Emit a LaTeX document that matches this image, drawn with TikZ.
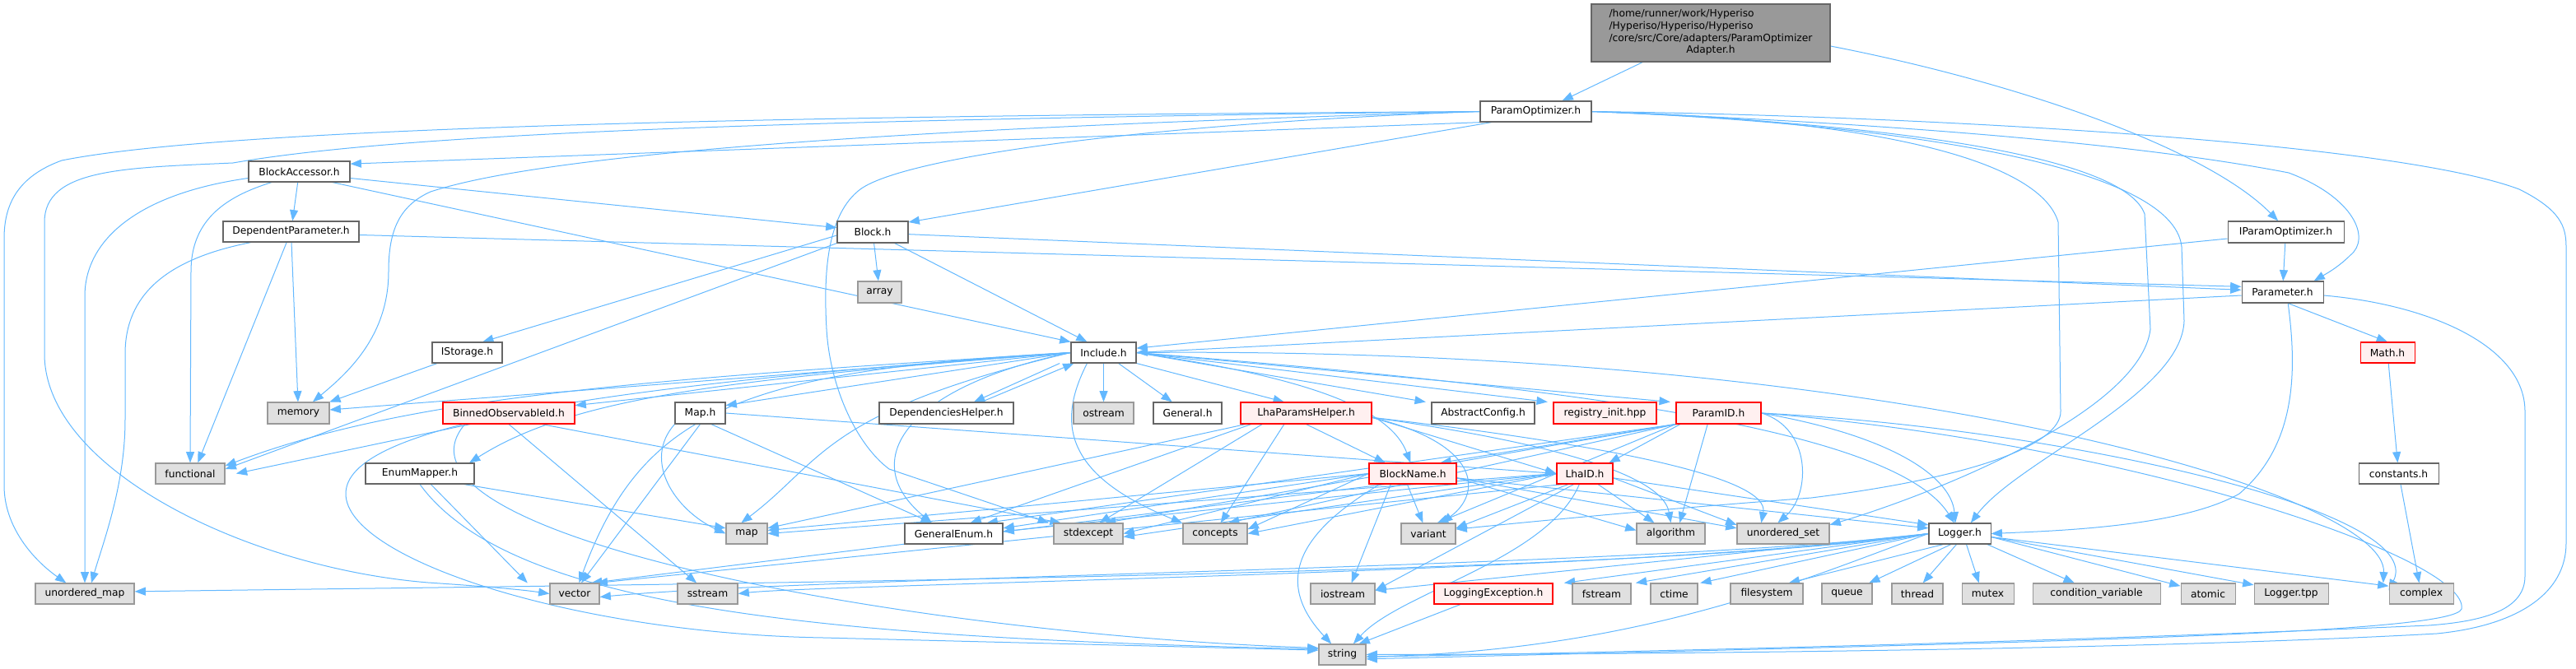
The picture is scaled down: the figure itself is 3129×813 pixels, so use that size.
\documentclass[tikz,border=0pt]{standalone}
\usepackage{fontspec}
\setmainfont{DejaVu Sans}
\usetikzlibrary{arrows.meta}
\pgfdeclarelayer{bg}
\pgfsetlayers{bg,main}
\definecolor{edgec}{HTML}{63B8FF}
\definecolor{nbord}{HTML}{666666}
\definecolor{sbord}{HTML}{999999}
\definecolor{sfill}{HTML}{E0E0E0}
\definecolor{rfill}{HTML}{FFF0F0}
\definecolor{tfill}{HTML}{999999}
\newcommand\nd[7]{\node[#2,minimum width={(#5-#3)*0.75pt},minimum height={(#6-#4)*0.75pt}] (#1) at ({(#3+#5)/2},{(#4+#6)/2}) {#7};}
\newcommand\E[2]{\draw[ed] (#1) -- (#2);}
\begin{document}
\begin{tikzpicture}[x=0.75pt,y=-0.75pt,
  base/.style={draw, inner sep=0pt, line width=0.8pt, font=\fontsize{9.2}{11}\selectfont},
  nrm/.style={base, draw=nbord, fill=white},
  sys/.style={base, draw=sbord, fill=sfill},
  rnode/.style={base, draw=red, fill=rfill},
  topn/.style={base, draw=nbord, fill=tfill},
  ed/.style={draw=edgec, line width=0.75pt, -{Triangle[length=10pt,width=7.5pt]}, fill=none}]
\useasboundingbox (0,0) rectangle (3129,813);
% ---- nodes ----
\nd{top}{topn}{1933}{5}{2223}{75}{\begin{tabular}{@{}l@{}}/home/runner/work/Hyperiso\\/Hyperiso/Hyperiso/Hyperiso\\/core/src/Core/adapters/ParamOptimizer\\\multicolumn{1}{@{}c@{}}{Adapter.h}\end{tabular}}
\nd{po}{nrm}{1798}{123}{1933}{148}{ParamOptimizer.h}
\nd{ba}{nrm}{302}{196}{425}{221}{BlockAccessor.h}
\nd{dp}{nrm}{271}{269}{436}{294}{DependentParameter.h}
\nd{blk}{nrm}{1017}{269}{1103}{295}{Block.h}
\nd{arr}{sys}{1042}{342}{1095}{368}{array}
\nd{ipo}{nrm}{2706}{269}{2847}{295}{IParamOptimizer.h}
\nd{par}{nrm}{2723}{342}{2822}{368}{Parameter.h}
\nd{math}{rnode}{2867}{416}{2933}{441}{Math.h}
\nd{const}{nrm}{2865}{563}{2962}{588}{constants.h}
\nd{cplx}{sys}{2902}{709}{2980}{734}{complex}
\nd{ltpp}{sys}{2738}{709}{2828}{734}{Logger.tpp}
\nd{atom}{sys}{2649}{709}{2715}{734}{atomic}
\nd{cv}{sys}{2469}{709}{2624}{734}{condition\_variable}
\nd{mtx}{sys}{2383}{709}{2446}{734}{mutex}
\nd{thr}{sys}{2298}{709}{2360}{734}{thread}
\nd{que}{sys}{2213}{709}{2274}{734}{queue}
\nd{fs}{sys}{2102}{709}{2190}{734}{filesystem}
\nd{log}{nrm}{2343}{636}{2418}{661}{Logger.h}
\nd{uset}{sys}{2110}{636}{2222}{661}{unordered\_set}
\nd{pid}{rnode}{2036}{489}{2139}{515}{ParamID.h}
\nd{alg}{sys}{1988}{636}{2071}{661}{algorithm}
\nd{ctime}{sys}{2005}{709}{2062}{734}{ctime}
\nd{fstr}{sys}{1910}{709}{1981}{734}{fstream}
\nd{lex}{rnode}{1742}{709}{1886}{734}{LoggingException.h}
\nd{ios}{sys}{1592}{709}{1670}{734}{iostream}
\nd{str}{sys}{1602}{783}{1659}{808}{string}
\nd{var}{sys}{1702}{636}{1768}{661}{variant}
\nd{lid}{rnode}{1891}{563}{1959}{588}{LhaID.h}
\nd{bn}{rnode}{1663}{563}{1769}{588}{BlockName.h}
\nd{ac}{nrm}{1739}{489}{1864}{515}{AbstractConfig.h}
\nd{reg}{rnode}{1887}{489}{2012}{515}{registry\_init.hpp}
\nd{lph}{rnode}{1507}{489}{1666}{515}{LhaParamsHelper.h}
\nd{gen}{nrm}{1401}{489}{1484}{515}{General.h}
\nd{ost}{sys}{1304}{489}{1377}{515}{ostream}
\nd{deph}{nrm}{1068}{489}{1231}{515}{DependenciesHelper.h}
\nd{inc}{nrm}{1301}{416}{1380}{441}{Include.h}
\nd{genum}{nrm}{1099}{636}{1218}{661}{GeneralEnum.h}
\nd{stdx}{sys}{1280}{636}{1364}{661}{stdexcept}
\nd{conc}{sys}{1437}{636}{1515}{661}{concepts}
\nd{ist}{nrm}{525}{416}{610}{441}{IStorage.h}
\nd{boi}{rnode}{538}{489}{698}{515}{BinnedObservableId.h}
\nd{maph}{nrm}{820}{489}{881}{515}{Map.h}
\nd{em}{nrm}{444}{563}{576}{588}{EnumMapper.h}
\nd{map}{sys}{882}{636}{932}{661}{map}
\nd{vec}{sys}{668}{709}{728}{734}{vector}
\nd{sst}{sys}{823}{709}{896}{734}{sstream}
\nd{mem}{sys}{325}{489}{400}{515}{memory}
\nd{fun}{sys}{189}{563}{273}{588}{functional}
\nd{umap}{sys}{43}{709}{163}{734}{unordered\_map}
% ---- edges ----
\begin{pgfonlayer}{bg}
\draw[ed] ([xshift=-62pt]top.south) -- ([xshift=24pt]po.north);
\draw[ed] ([yshift=-12pt]top.east) .. controls (2450,100) and (2680,180) .. ([xshift=-7pt]ipo.north);
\draw[ed] ([xshift=-48pt]po.south) -- ([yshift=7pt]ba.east);
\draw[ed] ([xshift=-40pt]po.south) -- ([yshift=9pt]blk.east);
\draw[ed] (po.east) .. controls (2300,150) and (2600,175) .. (2780,210) .. controls (2860,240) and (2880,290) .. (2855,310) .. controls (2840,325) and (2825,333) .. ([xshift=-9pt]par.north east);
\draw[ed] (po.west) .. controls (1100,140) and (300,150) .. (75,195) .. controls (20,215) and (5,250) .. (5,290) -- (5,590) .. controls (5,640) and (40,680) .. ([xshift=-17pt]umap.north);
\draw[ed] (po.west) .. controls (1000,145) and (500,160) .. (283,198) .. controls (150,204) and (54,205) .. (54,270) -- (54,430) .. controls (54,570) and (300,690) .. (520,708) .. controls (580,712) and (630,716) .. (vec.west);
\draw[ed] (po.west) .. controls (1300,150) and (700,175) .. (523,233) .. controls (485,250) and (472,280) .. (472,330) .. controls (472,410) and (420,455) .. ([xshift=13pt]mem.north);
\draw[ed] (po.west) .. controls (1400,150) and (1100,190) .. (1045,230) .. controls (1005,260) and (1000,330) .. (1004,400) .. controls (1008,470) and (1040,540) .. (1080,570) -- ([xshift=-36pt]stdx.north);
\draw[ed] (po.east) .. controls (2300,140) and (2900,170) .. (3060,230) .. controls (3110,255) and (3117,275) .. (3117,300) -- (3117,660) .. controls (3117,720) and (3060,760) .. (2960,770) .. controls (2600,790) and (2000,795) .. (str.east);
\draw[ed] (po.east) .. controls (2300,145) and (2480,200) .. (2500,270) -- (2503,500) .. controls (2503,540) and (2400,580) .. (2200,605) .. controls (2000,620) and (1850,635) .. ([yshift=4pt]var.east);
\draw[ed] (po.east) .. controls (2300,150) and (2580,190) .. (2605,260) -- (2612,400) .. controls (2600,500) and (2350,600) .. ([yshift=8pt]uset.east);
\draw[ed] (po.east) .. controls (2300,150) and (2640,200) .. (2650,300) -- (2653,390) .. controls (2650,480) and (2450,560) .. ([xshift=10pt]log.north);
% BlockAccessor
\E{ba}{dp}
\draw[ed] ([yshift=-6pt]ba.east) -- ([yshift=4pt]blk.west);
\draw[ed] ([xshift=30pt]ba.south) -- ([xshift=-30pt]inc.north);
\draw[ed] ([yshift=-6pt]ba.west) .. controls (170,235) and (103,290) .. (103,360) -- (umap.north);
\draw[ed] ([xshift=-25pt]ba.south) .. controls (270,240) and (232,270) .. (232,330) -- (fun.north);
% DependentParameter
\draw[ed] ([yshift=-3pt]dp.east) -- ([yshift=5pt]par.west);
\E{dp}{mem}
\draw[ed] ([xshift=-4pt]dp.south) -- ([xshift=7pt]fun.north);
\draw[ed] ([xshift=26pt]dp.south west) .. controls (200,315) and (152,360) .. (152,430) -- (152,510) .. controls (152,590) and (125,660) .. ([xshift=6pt]umap.north);
% Block
\E{blk}{arr}
\draw[ed] ([xshift=20pt]blk.south) -- ([xshift=-15pt]inc.north);
\draw[ed] ([yshift=-2pt]blk.east) -- ([yshift=2pt]par.west);
\draw[ed] ([yshift=-3pt]blk.west) -- ([xshift=14pt]ist.north);
\draw[ed] (blk.south west) -- ([yshift=4pt]fun.east);
\E{ist}{mem}
% IParamOptimizer / Parameter
\E{ipo}{par}
\draw[ed] ([yshift=-6pt]ipo.west) -- ([yshift=4pt]inc.east);
\draw[ed] ([yshift=-3pt]par.west) -- (inc.east);
\draw[ed] ([xshift=5pt]par.south) -- (math.north);
\E{math}{const}
\E{const}{cplx}
\draw[ed] ([xshift=5pt]par.south) .. controls (2790,450) and (2790,540) .. (2720,600) .. controls (2650,640) and (2500,645) .. (log.east);
\draw[ed] ([yshift=-3pt]par.east) .. controls (2950,370) and (3067,420) .. (3067,500) -- (3067,700) .. controls (3067,740) and (3020,755) .. (2950,760) .. controls (2500,780) and (2000,792) .. ([yshift=-2pt]str.east);
% Include
\draw[ed] ([xshift=-10pt]inc.south west) -- ([xshift=25pt]deph.north);
\draw[ed] ([xshift=32pt]deph.north) -- ([xshift=3pt]inc.south west);
\E{inc}{ost}
\E{inc}{gen}
\draw[ed] (inc.south east) -- ([xshift=-20pt]lph.north);
\draw[ed] (inc.east) -- ([xshift=-5pt]ac.north west);
\draw[ed] (inc.east) -- ([xshift=-5pt]reg.north west);
\draw[ed] (inc.east) -- ([xshift=-5pt]pid.north west);
\draw[ed] (inc.east) .. controls (1600,460) and (1690,500) .. ([xshift=-2pt]bn.north);
\draw[ed] (inc.east) .. controls (1900,470) and (2300,520) .. ([xshift=-5pt]log.north);
\draw[ed] ([xshift=-15pt]inc.south) .. controls (1280,520) and (1300,580) .. ([xshift=-30pt]conc.north);
\draw[ed] (inc.west) .. controls (1100,470) and (1040,560) .. ([xshift=-20pt]genum.north);
\draw[ed] (inc.west) -- ([yshift=7pt]boi.east);
\draw[ed] (inc.west) -- ([yshift=7pt]maph.east);
\draw[ed] (inc.west) .. controls (900,460) and (700,480) .. ([xshift=45pt]em.north);
\draw[ed] (inc.west) -- ([yshift=3pt]mem.east);
\draw[ed] (inc.west) .. controls (800,460) and (500,480) .. ([yshift=7pt]fun.east);
\draw[ed] (inc.west) .. controls (900,450) and (780,500) .. ([xshift=4pt]vec.north);
\draw[ed] (inc.west) .. controls (1000,500) and (1000,560) .. ([xshift=-5pt]map.north);
\draw[ed] (inc.west) .. controls (700,470) and (420,520) .. (420,600) .. controls (420,680) and (700,770) .. (1000,775) -- ([yshift=4pt]str.west);
\draw[ed] (inc.east) .. controls (2300,420) and (2900,600) .. ([xshift=-5pt]cplx.north west);
% BinnedObservableId
\draw[ed] ([xshift=-35pt]boi.south) -- ([xshift=10pt]fun.east);
\draw[ed] (boi.south) -- ([xshift=-10pt]sst.north);
\draw[ed] ([xshift=30pt]boi.south) -- ([xshift=-25pt]stdx.north);
\draw[ed] ([xshift=-40pt]boi.south) .. controls (450,650) and (1100,770) .. ([yshift=6pt]str.west);
% Map.h
\draw[ed] (maph.south west) .. controls (780,560) and (820,620) .. (map.west);
\draw[ed] (maph.south) -- ([xshift=6pt]vec.north);
\draw[ed] ([xshift=10pt]maph.south) -- ([xshift=-20pt]genum.north);
\draw[ed] (maph.east) -- (lid.west);
% EnumMapper
\draw[ed] ([xshift=40pt]em.south) -- ([yshift=5pt]map.west);
\draw[ed] ([xshift=10pt]em.south) -- ([xshift=-20pt]vec.north west);
\draw[ed] (em.south) .. controls (620,740) and (1000,775) .. ([yshift=5pt]str.west);
% LhaParamsHelper
\draw[ed] (lph.south) -- ([xshift=-25pt]bn.north);
\draw[ed] ([yshift=-4pt]lph.east) -- (lid.west);
\draw[ed] ([xshift=-50pt]lph.south) -- ([xshift=15pt]genum.north);
\draw[ed] ([xshift=-40pt]lph.south) -- ([xshift=10pt]stdx.north);
\draw[ed] ([xshift=-20pt]lph.south) -- ([xshift=5pt]conc.north);
\draw[ed] ([yshift=-4pt]lph.east) .. controls (1800,540) and (1800,600) .. ([xshift=12pt]var.north);
\draw[ed] ([yshift=-4pt]lph.east) .. controls (1900,540) and (2020,580) .. (alg.north);
\draw[ed] ([yshift=-4pt]lph.east) .. controls (1950,540) and (2150,580) .. ([xshift=-20pt]uset.north);
\draw[ed] ([xshift=-55pt]lph.south) -- ([yshift=5pt]map.east);
% ParamID
\draw[ed] ([xshift=-35pt]pid.south) -- ([xshift=22pt]lid.north);
\draw[ed] (pid.south west) -- ([xshift=25pt]bn.north);
\draw[ed] ([xshift=-10pt]pid.south) -- ([xshift=8pt]alg.north);
\draw[ed] (pid.east) .. controls (2200,520) and (2200,600) .. ([xshift=-5pt]uset.north);
\draw[ed] (pid.east) .. controls (2300,530) and (2370,580) .. ([xshift=-4pt]log.north);
\draw[ed] (pid.south west) -- ([xshift=8pt]var.north);
\draw[ed] (pid.south west) -- ([xshift=30pt]genum.north);
\draw[ed] (pid.south west) -- ([xshift=15pt]stdx.north);
\draw[ed] (pid.south west) -- ([xshift=12pt]conc.north);
\draw[ed] (pid.east) .. controls (2500,520) and (2950,620) .. ([yshift=3pt]cplx.west);
\draw[ed] (pid.east) .. controls (2600,540) and (3000,680) .. (2990,740) .. controls (2980,770) and (2500,780) .. ([yshift=-4pt]str.east);
% BlockName
\draw[ed] (bn.west) -- ([yshift=5pt]genum.east);
\draw[ed] (bn.west) -- (stdx.east);
\draw[ed] (bn.west) -- ([yshift=4pt]conc.east);
\draw[ed] ([xshift=-5pt]bn.south) -- ([xshift=-5pt]var.north);
\draw[ed] (bn.west) -- ([yshift=3pt]map.east);
\draw[ed] ([xshift=-25pt]bn.south) -- ([xshift=15pt]vec.north);
\draw[ed] ([xshift=-20pt]bn.south) -- ([xshift=8pt]ios.north);
\draw[ed] ([xshift=-30pt]bn.south) .. controls (1590,640) and (1540,700) .. ([xshift=-10pt]str.north);
\draw[ed] ([yshift=-4pt]bn.east) -- ([yshift=3pt]alg.west);
\draw[ed] ([yshift=-4pt]bn.east) -- ([yshift=5pt]uset.west);
\draw[ed] ([yshift=-4pt]bn.east) -- ([yshift=5pt]log.west);
% LhaID
\draw[ed] (lid.west) -- ([yshift=2pt]genum.east);
\draw[ed] (lid.west) -- ([yshift=-3pt]stdx.east);
\draw[ed] (lid.west) -- (conc.east);
\draw[ed] ([xshift=-15pt]lid.south) -- ([yshift=5pt]var.east);
\draw[ed] (lid.west) -- (map.east);
\draw[ed] ([xshift=-20pt]lid.south) -- ([xshift=20pt]vec.north);
\draw[ed] ([xshift=-10pt]lid.south) -- ([yshift=3pt]ios.east);
\draw[ed] ([xshift=-5pt]lid.south) .. controls (1880,680) and (1700,720) .. ([xshift=10pt]str.north);
\draw[ed] ([xshift=12pt]lid.south) -- ([xshift=-15pt]alg.north);
\draw[ed] ([yshift=-4pt]lid.east) -- ([yshift=8pt]uset.west);
\draw[ed] ([yshift=-4pt]lid.east) -- ([yshift=8pt]log.west);
% Logger
\draw[ed] (log.west) -- ([yshift=3pt]ios.east);
\draw[ed] (log.west) -- ([xshift=10pt]lex.north east);
\draw[ed] (log.west) -- ([xshift=4pt]fstr.north east);
\draw[ed] (log.west) -- ([xshift=2pt]ctime.north east);
\draw[ed] ([xshift=-15pt]log.south) -- ([xshift=20pt]fs.north);
\draw[ed] ([xshift=-8pt]log.south) -- ([xshift=20pt]que.north);
\draw[ed] ([xshift=-3pt]log.south) -- ([xshift=5pt]thr.north);
\draw[ed] ([xshift=6pt]log.south) -- ([xshift=-8pt]mtx.north);
\draw[ed] ([xshift=25pt]log.south) -- ([xshift=-20pt]cv.north);
\draw[ed] ([yshift=-3pt]log.east) -- ([yshift=7pt]atom.west);
\draw[ed] ([yshift=-3pt]log.east) -- ([yshift=8pt]ltpp.west);
\draw[ed] ([yshift=-3pt]log.east) -- ([yshift=7pt]cplx.west);
\draw[ed] (log.west) .. controls (2000,690) and (1000,700) .. ([yshift=-3pt]vec.east);
\draw[ed] (log.west) .. controls (2000,695) and (1000,710) .. (sst.east);
\draw[ed] (log.west) .. controls (2000,700) and (800,710) .. ([yshift=2pt]umap.east);
\draw[ed] (log.west) .. controls (2200,700) and (2000,790) .. ([yshift=-2pt]str.east);
\draw[ed] ([xshift=-30pt]lex.south) -- ([xshift=15pt]str.north);
\end{pgfonlayer}
\end{tikzpicture}
\end{document}
